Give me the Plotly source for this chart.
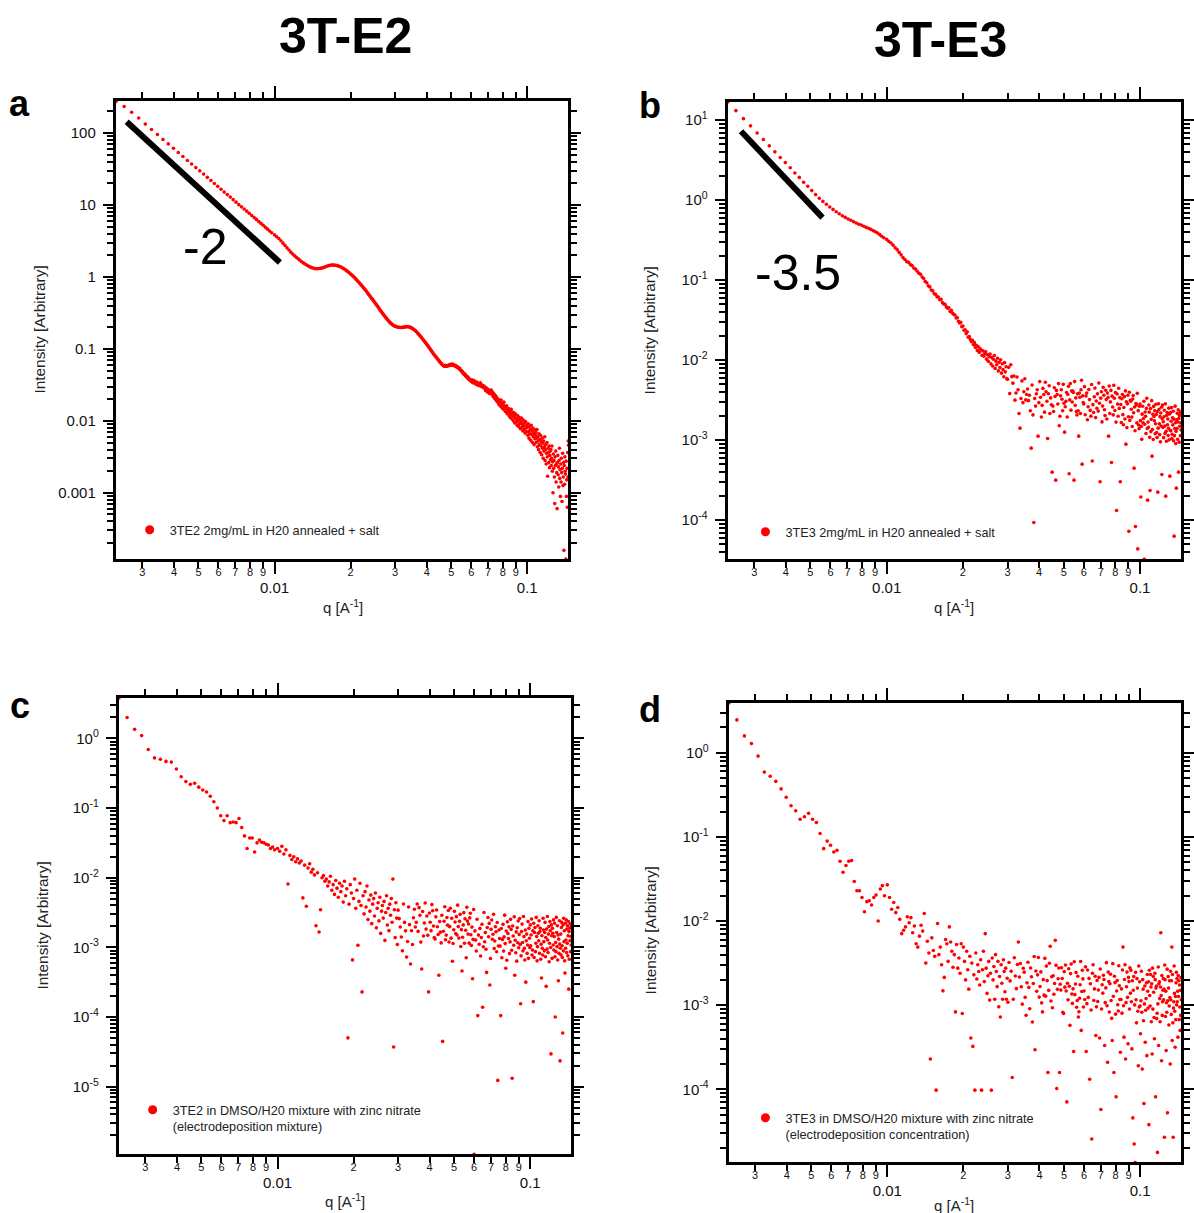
import math
import plotly.graph_objects as go

W, H = 1194, 1213
FONT = "Liberation Sans, Arial, Helvetica, sans-serif"
RED = "#ff0000"

# ---------------- q grid (A^-1), read from the point spacing ----------------
Q1 = [0.00236, 0.00254, 0.00272, 0.00290, 0.00308, 0.00326, 0.00344, 0.00362, 0.00380, 0.00398,
      0.00416, 0.00434, 0.00452, 0.00470, 0.00488, 0.00506, 0.00524, 0.00542, 0.00560, 0.00578,
      0.00596, 0.00614, 0.00632, 0.00650, 0.00668, 0.00686, 0.00704, 0.00722, 0.00740, 0.00758,
      0.00776, 0.00794, 0.00812, 0.00830, 0.00848, 0.00866, 0.00884, 0.00902, 0.00920, 0.00938,
      0.00956, 0.00974]
Q2 = [0.0100, 0.0102, 0.0104, 0.0106, 0.0108, 0.0110, 0.0112, 0.0114, 0.0116, 0.0118,
      0.0120, 0.0122, 0.0124, 0.0126, 0.0128, 0.0130, 0.0132, 0.0134, 0.0136, 0.0138,
      0.0140, 0.0142, 0.0144, 0.0146, 0.0148, 0.0150, 0.0152, 0.0154, 0.0156, 0.0158,
      0.0160, 0.0162, 0.0164, 0.0166, 0.0168, 0.0170, 0.0172, 0.0174, 0.0176, 0.0178,
      0.0180, 0.0182, 0.0184, 0.0186, 0.0188, 0.0190, 0.0192, 0.0194, 0.0196, 0.0198,
      0.0200, 0.0202, 0.0204, 0.0206, 0.0208, 0.0210, 0.0212, 0.0214, 0.0216, 0.0218,
      0.0220, 0.0222, 0.0224, 0.0226, 0.0228, 0.0230, 0.0232, 0.0234, 0.0236, 0.0238,
      0.0240, 0.0242, 0.0244, 0.0246, 0.0248, 0.0250, 0.0252, 0.0254, 0.0256, 0.0258,
      0.0260, 0.0262, 0.0264, 0.0266, 0.0268, 0.0270, 0.0272, 0.0274, 0.0276, 0.0278,
      0.0280, 0.0282, 0.0284, 0.0286, 0.0288, 0.0290, 0.0292, 0.0294, 0.0296, 0.0298]
Q3 = [0.0300, 0.0303, 0.0306, 0.0309, 0.0312, 0.0315, 0.0318, 0.0321, 0.0324, 0.0327,
      0.0330, 0.0333, 0.0336, 0.0339, 0.0342, 0.0345, 0.0348, 0.0351, 0.0354, 0.0357,
      0.0360, 0.0363, 0.0366, 0.0369, 0.0372, 0.0375, 0.0378, 0.0381, 0.0384, 0.0387,
      0.0390, 0.0393, 0.0396, 0.0399, 0.0402, 0.0405, 0.0408, 0.0411, 0.0414, 0.0417,
      0.0420, 0.0423, 0.0426, 0.0429, 0.0432, 0.0435, 0.0438, 0.0441, 0.0444, 0.0447,
      0.0450, 0.0453, 0.0456, 0.0459, 0.0462, 0.0465, 0.0468, 0.0471, 0.0474, 0.0477,
      0.0480, 0.0483, 0.0486, 0.0489, 0.0492, 0.0495, 0.0498, 0.0501, 0.0504, 0.0507,
      0.0510, 0.0513, 0.0516, 0.0519, 0.0522, 0.0525, 0.0528, 0.0531, 0.0534, 0.0537,
      0.0540, 0.0543, 0.0546, 0.0549, 0.0552, 0.0555, 0.0558, 0.0561, 0.0564, 0.0567,
      0.0570, 0.0573, 0.0576, 0.0579, 0.0582, 0.0585, 0.0588, 0.0591, 0.0594, 0.0597]
Q4 = [0.0600, 0.0604, 0.0608, 0.0612, 0.0616, 0.0620, 0.0624, 0.0628, 0.0632, 0.0636, 0.0640, 0.0644, 0.0648, 0.0652, 0.0656, 0.0660, 0.0664, 0.0668, 0.0672, 0.0676,
      0.0680, 0.0684, 0.0688, 0.0692, 0.0696, 0.0700, 0.0704, 0.0708, 0.0712, 0.0716, 0.0720, 0.0724, 0.0728, 0.0732, 0.0736, 0.0740, 0.0744, 0.0748, 0.0752, 0.0756,
      0.0760, 0.0764, 0.0768, 0.0772, 0.0776, 0.0780, 0.0784, 0.0788, 0.0792, 0.0796, 0.0800, 0.0804, 0.0808, 0.0812, 0.0816, 0.0820, 0.0824, 0.0828, 0.0832, 0.0836,
      0.0840, 0.0844, 0.0848, 0.0852, 0.0856, 0.0860, 0.0864, 0.0868, 0.0872, 0.0876, 0.0880, 0.0884, 0.0888, 0.0892, 0.0896, 0.0900, 0.0904, 0.0908, 0.0912, 0.0916,
      0.0920, 0.0924, 0.0928, 0.0932, 0.0936, 0.0940, 0.0944, 0.0948, 0.0952, 0.0956, 0.0960, 0.0964, 0.0968, 0.0972, 0.0976, 0.0980, 0.0984, 0.0988, 0.0992, 0.0996,
      0.1000, 0.1004, 0.1008, 0.1012, 0.1016, 0.1020, 0.1024, 0.1028, 0.1032, 0.1036, 0.1040, 0.1044, 0.1048, 0.1052, 0.1056, 0.1060, 0.1064, 0.1068, 0.1072, 0.1076,
      0.1080, 0.1084, 0.1088, 0.1092, 0.1096, 0.1100, 0.1104, 0.1108, 0.1112, 0.1116, 0.1120, 0.1124, 0.1128, 0.1132, 0.1136, 0.1140, 0.1144, 0.1148, 0.1152, 0.1156,
      0.1160, 0.1164, 0.1168, 0.1172, 0.1176, 0.1180, 0.1184, 0.1188, 0.1192, 0.1196, 0.1200, 0.1204, 0.1208, 0.1212, 0.1216, 0.1220, 0.1224, 0.1228, 0.1232, 0.1236,
      0.1240, 0.1244, 0.1248, 0.1252, 0.1256, 0.1260, 0.1264, 0.1268, 0.1272, 0.1276, 0.1280, 0.1284, 0.1288, 0.1292, 0.1296, 0.1300, 0.1304, 0.1308, 0.1312, 0.1316,
      0.1320, 0.1324, 0.1328, 0.1332, 0.1336, 0.1340, 0.1344, 0.1348, 0.1352, 0.1356, 0.1360, 0.1364, 0.1368, 0.1372, 0.1376, 0.1380, 0.1384, 0.1388, 0.1392, 0.1396,
      0.1400, 0.1404, 0.1408, 0.1412, 0.1416, 0.1420, 0.1424, 0.1428, 0.1432, 0.1436, 0.1440, 0.1444, 0.1448, 0.1452, 0.1456]

# ---------------- log10(intensity) ----------------
# (a) 3TE2 2mg/mL in H2O annealed + salt
A1 = [2.44, 2.37, 2.29, 2.21, 2.125, 2.05, 1.98, 1.91, 1.85, 1.79, 1.73, 1.675, 1.62, 1.57, 1.52, 1.475, 1.43, 1.385, 1.34, 1.30,
      1.26, 1.22, 1.18, 1.145, 1.11, 1.075, 1.04, 1.005, 0.975, 0.945, 0.915, 0.885, 0.855, 0.825, 0.80, 0.77, 0.745, 0.72, 0.69, 0.665,
      0.64, 0.615]
A2 = [0.585, 0.560, 0.535, 0.503, 0.470, 0.437, 0.405, 0.375, 0.345, 0.320,
      0.295, 0.273, 0.252, 0.232, 0.212, 0.196, 0.180, 0.166, 0.152, 0.141,
      0.130, 0.124, 0.118, 0.116, 0.115, 0.117, 0.120, 0.125, 0.130, 0.138,
      0.145, 0.152, 0.158, 0.162, 0.165, 0.166, 0.165, 0.163, 0.160, 0.155,
      0.150, 0.143, 0.135, 0.125, 0.115, 0.104, 0.092, 0.080, 0.068, 0.055,
      0.042, 0.028, 0.015, 0.000, -0.015, -0.030, -0.045, -0.062, -0.078, -0.094,
      -0.110, -0.126, -0.142, -0.158, -0.175, -0.192, -0.210, -0.228, -0.245, -0.262,
      -0.280, -0.296, -0.312, -0.328, -0.345, -0.362, -0.378, -0.394, -0.410, -0.428,
      -0.445, -0.462, -0.478, -0.494, -0.510, -0.525, -0.540, -0.554, -0.568, -0.582,
      -0.595, -0.608, -0.620, -0.631, -0.642, -0.651, -0.660, -0.668, -0.675, -0.681]
A3 = [-0.686, -0.690, -0.695, -0.699, -0.701, -0.702, -0.702, -0.700, -0.698, -0.696,
      -0.693, -0.691, -0.690, -0.692, -0.696, -0.701, -0.708, -0.716, -0.724, -0.734,
      -0.744, -0.755, -0.768, -0.782, -0.796, -0.810, -0.825, -0.840, -0.855, -0.870,
      -0.885, -0.900, -0.915, -0.930, -0.945, -0.960, -0.976, -0.992, -1.008, -1.024,
      -1.040, -1.055, -1.070, -1.084, -1.098, -1.111, -1.124, -1.137, -1.150, -1.163,
      -1.177, -1.190, -1.200, -1.212, -1.220, -1.232, -1.236, -1.240, -1.228, -1.245,
      -1.236, -1.230, -1.238, -1.226, -1.222, -1.230, -1.215, -1.222, -1.212, -1.225,
      -1.218, -1.232, -1.226, -1.240, -1.236, -1.250, -1.246, -1.262, -1.258, -1.275,
      -1.270, -1.292, -1.300, -1.305, -1.322, -1.318, -1.340, -1.345, -1.358, -1.350,
      -1.378, -1.372, -1.392, -1.385, -1.410, -1.402, -1.425, -1.418, -1.440, -1.435]
A4 = [-1.45, -1.43, -1.47, -1.46, -1.44, -1.48, -1.47, -1.49, -1.46, -1.50, -1.48, -1.51, -1.49, -1.47, -1.52, -1.50, -1.53, -1.51, -1.54, -1.52,
      -1.55, -1.58, -1.54, -1.57, -1.60, -1.56, -1.59, -1.62, -1.58, -1.61, -1.57, -1.63, -1.60, -1.66, -1.62, -1.68, -1.64, -1.70, -1.66, -1.72,
      -1.69, -1.74, -1.70, -1.77, -1.72, -1.79, -1.75, -1.71, -1.81, -1.76, -1.83, -1.78, -1.74, -1.85, -1.80, -1.87, -1.82, -1.79, -1.90, -1.84,
      -1.88, -1.83, -1.93, -1.86, -1.95, -1.90, -1.84, -1.97, -1.92, -1.88, -2.00, -1.94, -1.89, -2.03, -1.96, -1.91, -2.02, -1.98, -2.06, -1.93,
      -2.00, -2.08, -1.95, -2.04, -1.98, -2.11, -2.02, -1.96, -2.09, -2.05, -2.14, -1.99, -2.07, -2.12, -2.03, -2.17, -2.01, -2.10, -2.15, -2.06,
      -2.09, -2.20, -2.04, -2.15, -2.24, -2.08, -2.18, -2.12, -2.27, -2.06, -2.19, -2.14, -2.30, -2.10, -2.22, -2.17, -2.33, -2.12, -2.25, -2.20,
      -2.16, -2.30, -2.24, -2.12, -2.36, -2.22, -2.28, -2.40, -2.18, -2.33, -2.26, -2.44, -2.20, -2.35, -2.29, -2.47, -2.24, -2.38, -2.31, -2.52,
      -2.28, -2.42, -2.36, -2.22, -2.55, -2.40, -2.33, -2.60, -2.45, -2.30, -2.50, -2.77, -2.38, -2.44, -2.58, -2.35, -2.65, -2.48, -2.42, -2.54,
      -2.40, -2.62, -2.52, -2.35, -2.70, -2.57, -3.00, -2.46, -2.66, -2.55, -2.78, -3.15, -2.50, -2.62, -2.42, -2.85, -2.60, -2.72, -3.22, -2.58,
      -2.48, -2.75, -2.64, -2.92, -2.55, -2.38, -2.80, -2.68, -3.05, -2.60, -2.85, -2.52, -2.72, -3.12, -2.66, -2.45, -2.90, -2.78, -2.58, -3.80,
      -2.62, -2.88, -2.50, -2.70, -2.74, -3.92, -2.56, -3.05, -2.82, -2.66, -3.20, -2.44, -2.78, -2.28, -2.34]

# (b) 3TE3 2mg/mL in H2O annealed + salt
B1 = [1.228, 1.12, 1.02, 0.93, 0.84, 0.76, 0.68, 0.605, 0.535, 0.47,
      0.405, 0.34, 0.285, 0.225, 0.175, 0.12, 0.07, 0.025, -0.015, -0.05,
      -0.085, -0.115, -0.145, -0.17, -0.195, -0.215, -0.235, -0.25, -0.27, -0.285,
      -0.30, -0.31, -0.325, -0.34, -0.35, -0.365, -0.38, -0.395, -0.41, -0.43,
      -0.45, -0.47]
B2 = [-0.49, -0.515, -0.535, -0.562, -0.594, -0.618, -0.652, -0.683, -0.718, -0.742,
      -0.768, -0.776, -0.805, -0.818, -0.849, -0.861, -0.889, -0.914, -0.926, -0.961,
      -0.979, -1.016, -1.032, -1.071, -1.084, -1.122, -1.133, -1.171, -1.176, -1.208,
      -1.211, -1.243, -1.238, -1.281, -1.297, -1.301, -1.334, -1.351, -1.346, -1.392,
      -1.377, -1.412, -1.428, -1.436, -1.472, -1.468, -1.513, -1.534, -1.528, -1.581,
      -1.572, -1.627, -1.619, -1.668, -1.645, -1.712, -1.706, -1.741, -1.768, -1.752,
      -1.806, -1.781, -1.842, -1.815, -1.878, -1.833, -1.902, -1.859, -1.873, -1.938,
      -1.884, -1.951, -1.917, -1.896, -1.987, -1.932, -2.015, -1.958, -1.924, -2.046,
      -1.968, -2.072, -1.989, -1.941, -2.103, -2.012, -2.058, -1.976, -2.134, -2.027,
      -2.091, -1.995, -2.162, -2.044, -2.118, -2.207, -2.031, -2.146, -2.083, -2.231]
B3 = [-2.239, -2.09, -2.418, -2.057, -2.206, -2.287, -2.198, -2.50, -2.411, -2.211,
      -2.369, -2.667, -2.85, -2.48, -2.259, -2.531, -2.395, -2.233, -2.497, -2.429,
      -2.361, -2.506, -2.438, -2.633, -3.10, -2.31, -2.684, -4.03, -2.48, -2.574,
      -2.42, -2.37, -2.95, -2.531, -2.268, -2.463, -2.71, -2.565, -2.353, -2.429,
      -2.65, -2.276, -2.395, -2.514, -2.98, -2.42, -2.319, -2.667, -2.472, -2.557,
      -3.40, -2.574, -2.642, -2.344, -2.455, -3.50, -2.378, -2.429, -2.548, -2.293,
      -2.82, -2.701, -2.446, -2.37, -2.489, -2.633, -2.302, -2.54, -2.90, -2.582,
      -2.514, -2.404, -2.71, -2.429, -2.327, -3.42, -2.497, -2.293, -2.625, -2.387,
      -2.523, -2.387, -2.404, -3.50, -2.268, -2.565, -2.472, -2.642, -2.684, -2.421,
      -2.633, -2.95, -2.412, -2.463, -2.667, -2.37, -2.251, -3.30, -2.446, -2.531]
B4 = [-2.547, -2.331, -2.682, -2.448, -2.412, -2.745, -2.583, -2.367, -2.493, -2.628, -2.70, -2.304, -3.26, -2.556, -2.655, -2.457, -2.349, -2.718, -2.511, -2.601,
      -2.421, -2.637, -2.286, -2.538, -3.52, -2.475, -2.394, -2.772, -2.574, -2.34, -2.439, -2.619, -2.691, -2.376, -2.493, -2.736, -2.412, -2.466, -2.95, -2.322,
      -2.666, -2.522, -2.378, -3.28, -2.45, -2.585, -2.684, -2.315, -2.477, -2.63, -2.405, -2.774, -3.88, -2.423, -2.549, -2.702, -2.351, -2.603, -2.468, -3.52,
      -2.555, -2.78, -2.483, -2.429, -2.681, -2.807, -2.591, -2.456, -2.735, -2.384, -3.05, -2.519, -2.843, -2.546, -2.438, -2.708, -4.14, -2.402, -2.753, -2.501,
      -2.514, -2.613, -2.712, -2.829, -2.487, -2.442, -2.658, -3.35, -2.586, -2.883, -4.08, -2.541, -2.559, -2.784, -2.415, -4.36, -2.631, -2.811, -2.856, -2.577,
      -2.549, -2.756, -3.71, -2.828, -2.99, -2.675, -2.576, -2.783, -2.729, -2.513, -4.49, -2.801, -2.648, -2.702, -2.918, -2.603, -2.477, -2.855, -3.75, -2.774,
      -2.839, -2.56, -2.65, -2.965, -3.63, -2.605, -2.893, -2.74, -2.506, -3.20, -2.866, -2.677, -2.992, -2.578, -2.704, -2.758, -2.632, -2.92, -2.794, -2.551,
      -2.679, -2.904, -2.967, -2.643, -3.65, -2.85, -2.544, -2.616, -2.796, -2.931, -2.706, -3.021, -2.661, -2.823, -2.589, -3.43, -2.733, -2.562, -2.841, -2.769,
      -2.969, -2.708, -2.627, -2.825, -2.915, -2.546, -3.70, -2.888, -3.014, -2.69, -2.654, -2.807, -2.735, -2.942, -2.852, -2.60, -2.996, -2.672, -3.45, -2.879,
      -2.656, -2.881, -2.764, -2.593, -2.98, -2.926, -2.719, -2.809, -2.638, -3.007, -2.737, -4.20, -2.944, -2.854, -2.575, -2.782, -3.043, -2.89, -3.60, -2.746,
      -2.854, -2.665, -2.989, -2.773, -2.62, -3.40, -2.728, -3.025, -2.692, -2.827, -2.647, -2.944, -2.782, -2.872, -2.674]

# (c) 3TE2 in DMSO/H2O mixture with zinc nitrate
C1 = [0.58, 0.30, 0.13, 0.04, -0.16, -0.28, -0.30, -0.33, -0.34, -0.44,
      -0.55, -0.62, -0.66, -0.645, -0.70, -0.74, -0.77, -0.83, -0.91, -1.00,
      -1.11, -1.18, -1.11, -1.21, -1.20, -1.21, -1.15, -1.28, -1.40, -1.58,
      -1.43, -1.43, -1.63, -1.50, -1.46, -1.49, -1.50, -1.52, -1.53, -1.58,
      -1.56, -1.60]
C2 = [-1.58, -1.62, -1.55, -1.66, -1.60, -2.09, -1.68, -1.74, -1.70, -1.77,
      -1.73, -1.79, -1.76, -2.29, -1.82, -2.41, -1.86, -1.80, -1.92, -1.88,
      -1.96, -2.69, -1.93, -2.78, -2.46, -2.00, -1.97, -2.05, -2.02, -2.12,
      -2.06, -1.98, -2.18, -2.10, -2.24, -2.04, -2.15, -2.28, -2.08, -2.20,
      -2.12, -2.35, -2.05, -2.26, -2.16, -4.30, -2.38, -2.10, -2.22, -3.18,
      -2.30, -2.02, -2.44, -2.18, -2.97, -2.34, -2.08, -2.40, -3.64, -2.26,
      -2.52, -2.20, -2.42, -2.12, -2.60, -2.32, -2.48, -2.25, -2.66, -2.38,
      -2.30, -2.55, -2.22, -2.72, -2.44, -2.36, -2.62, -2.28, -2.80, -2.48,
      -2.40, -2.58, -2.34, -2.90, -2.50, -2.26, -2.68, -2.44, -2.76, -2.38,
      -2.54, -2.30, -2.64, -2.02, -4.43, -2.46, -2.86, -2.36, -2.58, -2.96]
C3 = [-2.466, -2.587, -2.708, -2.851, -3.05, -2.378, -2.642, -2.763, -3.14, -2.917,
      -2.421, -2.674, -3.24, -2.762, -2.96, -2.575, -2.454, -2.707, -2.641, -2.377,
      -2.771, -2.43, -2.54, -2.925, -3.31, -2.485, -2.837, -2.65, -2.364, -2.738,
      -2.551, -2.826, -3.64, -2.507, -2.639, -2.76, -2.386, -2.474, -2.694, -2.859,
      -2.881, -2.562, -2.463, -2.705, -2.815, -3.40, -2.628, -2.782, -2.936, -2.54,
      -4.35, -2.769, -2.626, -2.417, -2.89, -2.824, -2.571, -2.681, -2.472, -2.923,
      -2.703, -2.439, -2.868, -2.582, -3.20, -2.945, -2.747, -2.483, -2.637, -2.802,
      -2.559, -2.823, -2.394, -2.702, -2.867, -2.625, -2.526, -2.988, -2.746, -3.34,
      -2.854, -2.678, -2.502, -2.942, -2.59, -2.755, -3.15, -2.425, -2.623, -2.81,
      -2.665, -2.94, -2.577, -2.511, -2.819, -2.973, -2.709, -3.45, -2.885, -2.456]
C4 = [-5.97, -2.764, -2.896, -3.052, -2.596, -3.98, -2.824, -2.956, -2.728, -3.124, -2.86, -2.668, -3.86, -2.992, -2.50, -2.92, -2.788, -3.028, -3.36, -2.716,
      -2.572, -2.848, -2.656, -3.54, -3.16, -2.74, -2.608, -2.884, -2.812, -2.524, -3.016, -2.908, -2.704, -2.776, -3.064, -2.644, -4.91, -2.98, -2.752, -2.872,
      -2.982, -3.98, -2.73, -3.15, -2.886, -2.67, -3.054, -2.85, -2.538, -2.946, -3.30, -2.766, -3.186, -2.634, -2.802, -2.874, -2.706, -3.09, -2.922, -2.598,
      -2.742, -3.042, -4.88, -2.694, -2.838, -2.97, -2.562, -3.40, -2.898, -3.078, -2.778, -3.198, -2.718, -2.934, -2.622, -3.006, -2.814, -2.586, -2.958, -3.81,
      -3.122, -2.774, -2.666, -2.93, -3.05, -2.558, -2.846, -3.014, -3.182, -2.75, -3.50, -2.906, -2.81, -3.086, -2.966, -2.63, -3.158, -2.726, -2.87, -3.002,
      -2.678, -2.978, -2.822, -2.594, -3.11, -3.038, -2.762, -3.78, -2.654, -3.146, -2.786, -2.714, -3.062, -2.942, -2.57, -2.846, -3.194, -2.99, -2.69, -2.798,
      -2.906, -2.618, -3.086, -2.774, -2.726, -3.17, -2.954, -3.44, -2.834, -3.014, -3.11, -2.582, -2.75, -2.918, -3.05, -2.786, -2.642, -3.134, -2.858, -3.56,
      -2.738, -3.026, -2.558, -2.894, -3.074, -2.81, -2.702, -3.206, -2.942, -2.63, -2.762, -3.002, -4.53, -2.678, -2.834, -3.158, -2.726, -2.798, -2.966, -2.606,
      -3.038, -2.846, -2.654, -3.134, -4.00, -2.93, -3.062, -2.57, -2.786, -2.99, -2.69, -3.182, -2.822, -3.48, -2.882, -3.086, -2.618, -2.954, -4.63, -3.014,
      -2.81, -3.11, -2.714, -2.642, -2.978, -3.146, -4.23, -2.678, -3.05, -2.582, -2.918, -2.762, -3.194, -3.37, -2.654, -3.014, -2.894, -2.606, -3.074, -2.738,
      -2.942, -2.69, -3.122, -2.834, -2.63, -3.60, -2.774, -3.17, -2.726, -2.906, -2.666, -3.062, -2.846, -2.966, -2.702]

# (d) 3TE3 in DMSO/H2O mixture with zinc nitrate
D1 = [0.59, 0.39, 0.20, 0.11, -0.04, -0.23, -0.28, -0.34, -0.43, -0.53,
      -0.63, -0.69, -0.79, -0.76, -0.72, -0.79, -0.83, -0.96, -1.14, -1.05,
      -1.10, -1.18, -1.16, -1.29, -1.42, -1.34, -1.29, -1.28, -1.53, -1.64,
      -1.64, -1.72, -1.89, -1.77, -1.76, -1.81, -1.72, -1.69, -2.00, -1.62,
      -1.58, -1.70]
D2 = [-1.57, -1.72, -1.86, -1.78, -1.90, -1.84, -1.98, -2.15, -2.11, -2.07,
      -1.95, -2.02, -1.96, -2.14, -2.06, -2.27, -2.31, -2.18, -2.05, -2.12,
      -1.91, -2.50, -2.24, -2.38, -3.64, -2.20, -2.35, -2.42, -4.01, -2.03,
      -2.40, -2.31, -2.52, -2.83, -2.67, -2.22, -2.27, -2.48, -2.07, -2.25,
      -2.36, -2.55, -2.40, -3.08, -2.28, -2.56, -2.44, -2.62, -2.27, -3.10,
      -2.31, -2.48, -2.70, -2.36, -2.58, -2.81, -2.42, -3.39, -2.50, -3.49,
      -2.64, -4.01, -2.38, -2.69, -2.52, -2.60, -2.76, -2.46, -4.01, -2.58,
      -2.36, -2.72, -2.15, -2.56, -2.86, -2.65, -2.48, -2.94, -2.62, -4.01,
      -2.44, -2.70, -2.54, -2.93, -2.40, -2.60, -2.78, -2.48, -3.02, -2.66,
      -3.14, -2.52, -2.74, -2.93, -2.46, -2.60, -2.84, -2.56, -2.93, -2.68]
D3 = [-2.965, -2.493, -2.712, -2.597, -3.86, -2.93, -2.436, -2.654, -2.804, -2.516,
      -2.25, -2.666, -2.505, -2.781, -2.988, -2.562, -2.608, -2.907, -3.12, -2.735,
      -2.49, -2.789, -3.042, -2.559, -2.663, -3.20, -2.743, -2.421, -3.53, -2.594,
      -2.835, -2.64, -2.433, -2.904, -2.778, -2.605, -2.973, -3.08, -2.697, -2.881,
      -2.444, -2.893, -2.536, -2.709, -3.80, -2.824, -2.502, -2.30, -2.95, -2.663,
      -3.031, -2.651, -2.87, -2.743, -2.23, -2.525, -3.99, -2.812, -2.686, -2.559,
      -3.80, -2.752, -2.821, -2.556, -2.683, -3.085, -3.10, -2.602, -2.786, -2.522,
      -2.832, -4.15, -2.74, -2.936, -2.568, -2.775, -3.24, -2.625, -2.51, -2.867,
      -2.979, -2.806, -3.55, -2.484, -2.875, -2.749, -2.611, -3.025, -2.944, -2.657,
      -3.14, -3.079, -2.918, -2.757, -2.481, -3.30, -2.838, -2.585, -2.688, -3.022]
D4 = [-2.832, -2.932, -2.545, -3.55, -2.982, -2.582, -2.908, -2.682, -3.88, -2.745, -3.057, -4.59, -2.62, -2.52, -2.945, -2.807, -2.657, -3.36, -3.02, -2.707,
      -2.957, -2.82, -2.67, -3.39, -2.57, -4.24, -3.045, -2.757, -2.857, -2.645, -2.695, -3.48, -2.97, -2.795, -2.495, -3.007, -3.68, -2.607, -2.72, -3.082,
      -2.745, -2.632, -2.945, -3.157, -3.42, -2.507, -2.895, -3.80, -2.657, -2.732, -3.107, -4.09, -2.832, -2.707, -2.995, -3.07, -2.532, -2.77, -2.932, -3.56,
      -2.932, -2.807, -3.095, -2.582, -2.31, -3.007, -3.38, -2.695, -2.52, -3.64, -2.97, -2.782, -2.607, -2.907, -3.46, -2.67, -2.72, -3.045, -2.557, -2.857,
      -2.585, -2.96, -3.52, -2.71, -4.34, -2.822, -2.66, -4.65, -2.997, -4.87, -2.61, -2.935, -3.21, -2.685, -2.797, -3.072, -3.72, -2.535, -3.022, -2.722,
      -3.01, -3.34, -2.947, -2.597, -3.085, -3.76, -2.697, -2.81, -3.185, -4.17, -2.985, -2.772, -3.44, -3.06, -2.922, -2.735, -3.60, -2.635, -2.835, -3.035,
      -2.722, -4.42, -2.585, -2.885, -3.01, -2.635, -2.785, -3.197, -2.747, -3.58, -2.56, -3.047, -2.66, -2.847, -3.147, -3.40, -2.622, -2.697, -4.09, -2.797,
      -2.772, -3.16, -3.097, -4.75, -2.985, -2.547, -3.48, -2.747, -2.722, -2.922, -3.197, -2.785, -2.14, -2.885, -3.66, -2.647, -3.122, -2.96, -2.822, -2.685,
      -2.935, -2.81, -4.57, -2.522, -2.697, -3.135, -2.835, -3.54, -2.972, -3.085, -2.572, -4.28, -2.947, -2.66, -2.797, -3.235, -3.01, -2.71, -2.91, -3.70,
      -2.597, -2.935, -3.11, -2.71, -2.31, -3.42, -2.635, -3.21, -4.57, -3.035, -2.96, -2.535, -2.86, -3.072, -3.50, -2.897, -3.172, -2.735, -2.61, -2.997,
      -2.685, -2.96, -2.835, -3.38, -2.647, -2.897, -2.71, -3.172, -2.76, -3.022, -3.30, -2.822, -3.122, -2.672, -2.935]

# slope guide lines (q, I) end points
SLOPE_A_Q = [0.00260, 0.01050]
SLOPE_A_I = [144.0, 1.59]
SLOPE_B_Q = [0.00266, 0.00558]
SLOPE_B_I = [7.28, 0.605]

LEGENDS = ["3TE2 2mg/mL in H20 annealed + salt",
           "3TE3 2mg/mL in H20 annealed + salt",
           "3TE2 in DMSO/H20 mixture with zinc nitrate<br>(electrodeposition mixture)",
           "3TE3 in DMSO/H20 mixture with zinc nitrate<br>(electrodeposition concentration)"]

Q = Q1 + Q2 + Q3 + Q4
SERIES = [A1 + A2 + A3 + A4, B1 + B2 + B3 + B4, C1 + C2 + C3 + C4, D1 + D2 + D3 + D4]
for s in SERIES:
    if len(s) != len(Q):
        raise ValueError("length mismatch %d vs %d" % (len(s), len(Q)))

# ---------------- layout geometry (pixel frames of the four panels) ----------------
XR = [-2.628, -0.838]
PANELS = [
    dict(frame=(117, 101, 574, 559), yr=[-3.920, 2.446], sup=False,
         leg=(131, 515), ytitle=(40, 330), xtitle=(346, 607)),
    dict(frame=(735, 102, 1193, 559), yr=[-4.486, 1.228], sup=True,
         leg=(753, 517), ytitle=(657, 330), xtitle=(964, 607)),
    dict(frame=(120, 698, 577, 1154), yr=[-5.967, 0.580], sup=True,
         leg=(134, 1095), ytitle=(42, 926), xtitle=(348, 1200)),
    dict(frame=(736, 703, 1193, 1162), yr=[-4.864, 0.591], sup=True,
         leg=(753, 1103), ytitle=(657, 930), xtitle=(964, 1204)),
]


def minor_vals(lo, hi):
    out = []
    for d in range(math.floor(lo), math.ceil(hi) + 1):
        for m in range(2, 10):
            v = m * 10 ** d
            if lo <= math.log10(v) <= hi:
                out.append(v)
    return out


def decades(lo, hi):
    return [10 ** d for d in range(math.ceil(lo), math.floor(hi) + 1)]


x_minor = minor_vals(*XR)
x_digits = [str(int(round(v / 10 ** math.floor(math.log10(v) + 1e-9)))) for v in x_minor]
x_major = decades(*XR)
x_major_txt = ["%g" % v for v in x_major]

fig = go.Figure()
layout = dict(width=W, height=H, margin=dict(l=0, r=0, t=0, b=0), autosize=False,
              paper_bgcolor="white", plot_bgcolor="white",
              font=dict(family=FONT, color="#111111", size=15), annotations=[])

line_common = dict(showgrid=False, zeroline=False, showline=True, linecolor="black",
                   linewidth=3, mirror="ticks", ticks="outside", tickcolor="black", tickwidth=2)


def ann(text, x, y, size, color="#111111", xref="paper", yref="paper", angle=0):
    if xref == "paper":
        x = x / W
    if yref == "paper":
        y = 1 - y / H
    return dict(text=text, x=x, y=y, xref=xref, yref=yref, showarrow=False, textangle=angle,
                xanchor="center", yanchor="middle", font=dict(size=size, color=color, family=FONT))


for i, p in enumerate(PANELS, start=1):
    x0, y0, x1, y1 = p["frame"]
    xs = "" if i == 1 else str(i)
    xid, yid = "x" + xs, "y" + xs
    ov = str(i + 4)
    ylo, yhi = p["yr"]
    ymaj = decades(ylo, yhi)
    if p["sup"]:
        ytxt = ["10<sup>%d</sup>" % round(math.log10(v)) for v in ymaj]
    else:
        ytxt = ["%g" % v for v in ymaj]

    layout["xaxis" + xs] = dict(
        type="log", range=XR, domain=[x0 / W, x1 / W], anchor=yid,
        tickmode="array", tickvals=x_major, ticktext=x_major_txt, ticklen=12,
        tickfont=dict(size=15, color="#111111"), ticklabelstandoff=1,
        minor=dict(tickmode="array", tickvals=x_minor, ticklen=6, tickwidth=2,
                   tickcolor="black", ticks="outside", showgrid=False),
        **line_common)
    layout["xaxis" + ov] = dict(
        type="log", range=XR, overlaying=xid, anchor=yid, side="bottom",
        tickmode="array", tickvals=x_minor, ticktext=x_digits, ticks="",
        showline=False, showgrid=False, zeroline=False,
        tickfont=dict(size=11, color="#111111"), ticklabelstandoff=5)
    layout["yaxis" + xs] = dict(
        type="log", range=p["yr"], domain=[1 - y1 / H, 1 - y0 / H], anchor=xid,
        tickmode="array", tickvals=ymaj, ticktext=ytxt, ticklen=10,
        tickfont=dict(size=15, color="#111111"), ticklabelstandoff=4,
        minor=dict(tickmode="array", tickvals=minor_vals(ylo, yhi), ticklen=6, tickwidth=2,
                   tickcolor="black", ticks="outside", showgrid=False),
        **line_common)

    logI = SERIES[i - 1]
    fig.add_trace(go.Scatter(x=Q, y=[10 ** v for v in logI], mode="markers",
                             marker=dict(color=RED, size=3.6, line=dict(width=0)),
                             xaxis=xid, yaxis=yid, showlegend=False, hoverinfo="skip"))
    # legend entry (symbol drawn by the legend)
    lg = "legend" if i == 1 else "legend%d" % i
    fig.add_trace(go.Scatter(x=[None], y=[None], mode="markers", name=LEGENDS[i - 1],
                             marker=dict(color=RED, size=9), xaxis=xid, yaxis=yid,
                             showlegend=True, legend=lg))
    # overlay axis carrier (digit labels on the q axis)
    fig.add_trace(go.Scatter(x=[], y=[], xaxis="x" + ov, yaxis=yid, showlegend=False,
                             hoverinfo="skip"))
    lx, ly = p["leg"]
    layout[lg] = dict(x=lx / W, y=1 - ly / H, xanchor="left", yanchor="top",
                      bgcolor="rgba(0,0,0,0)", borderwidth=0, valign="top",
                      font=dict(size=12.7, color="#222222", family=FONT), itemsizing="trace")

    tx, ty = p["ytitle"]
    layout["annotations"].append(ann("Intensity [Arbitrary]", tx, ty, 15.4, "#222222", angle=-90))
    tx, ty = p["xtitle"]
    layout["annotations"].append(ann("q [A<sup>-1</sup>]", tx, ty, 15, "#222222"))

# slope guides
fig.add_trace(go.Scatter(x=SLOPE_A_Q, y=SLOPE_A_I, mode="lines", line=dict(color="black", width=6),
                         xaxis="x", yaxis="y", showlegend=False, hoverinfo="skip"))
fig.add_trace(go.Scatter(x=SLOPE_B_Q, y=SLOPE_B_I, mode="lines", line=dict(color="black", width=6),
                         xaxis="x2", yaxis="y2", showlegend=False, hoverinfo="skip"))
layout["annotations"].append(ann("-2", -2.277, 0.42, 50, "black", xref="x", yref="y"))
layout["annotations"].append(ann("-3.5", -2.351, -0.904, 50, "black", xref="x2", yref="y2"))

# column titles and panel letters
layout["annotations"].append(ann("<b>3T-E2</b>", 349, 36, 50, "black"))
layout["annotations"].append(ann("<b>3T-E3</b>", 950, 40, 50, "black"))
for txt, cx, cy in [("a", 20, 103), ("b", 657, 105), ("c", 20, 705), ("d", 657, 709)]:
    layout["annotations"].append(ann("<b>%s</b>" % txt, cx, cy, 36, "black"))

fig.update_layout(**layout)
fig.write_html("out.html", config={"displayModeBar": False})
